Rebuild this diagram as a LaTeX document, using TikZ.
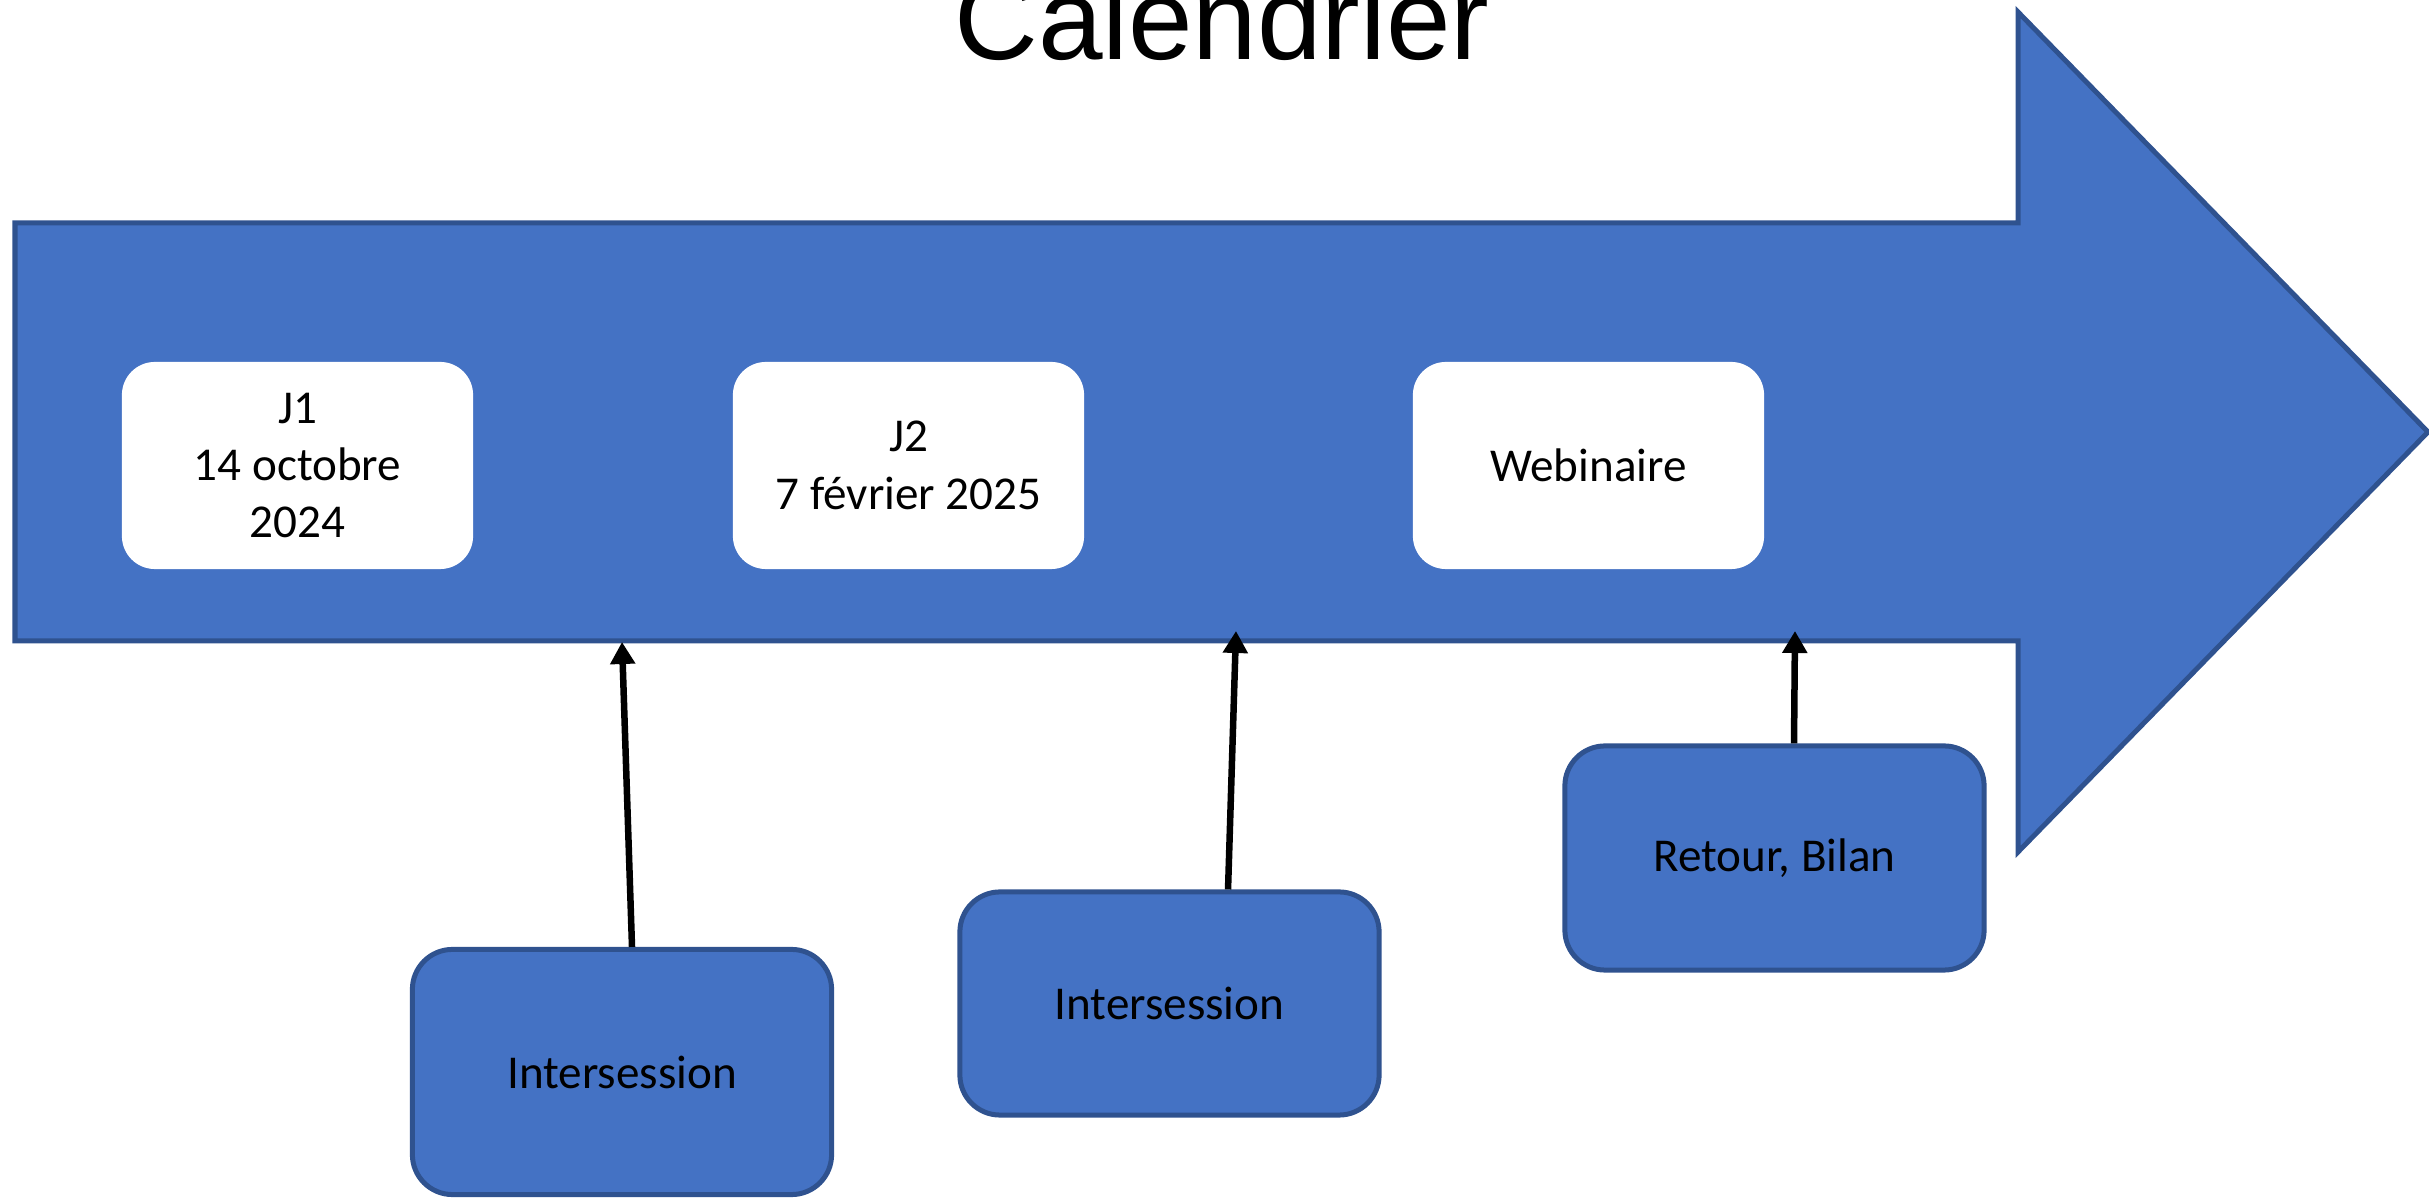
\documentclass[tikz,border=0pt]{standalone}
\usepackage{fontspec}
\setmainfont{Carlito}
\newfontfamily\titlefont{Liberation Sans}
\usetikzlibrary{arrows.meta}
\definecolor{fillblue}{HTML}{4472C4}
\definecolor{edgeblue}{HTML}{2F528F}
\begin{document}
\begin{tikzpicture}[x=0.01cm,y=-0.01cm,
  bigarrow/.style={fill=fillblue, draw=edgeblue, line width=0.05cm, line join=miter},
  datebox/.style={fill=white, rounded corners=0.33cm, minimum width=3.51cm, minimum height=2.07cm,
    inner sep=0pt, align=center, font=\fontsize{13.4}{16.3}\selectfont},
  phasebox/.style={fill=fillblue, draw=edgeblue, line width=0.05cm, rounded corners=0.4cm,
    minimum width=4.19cm, inner sep=0pt, align=center, font=\fontsize{13.4}{16.3}\selectfont},
  conn/.style={line width=0.065cm, -{Triangle[width=0.24cm,length=0.22cm]}}
]
\useasboundingbox (0,0) rectangle (2429,1198);
% title
\node[anchor=base, inner sep=0pt, font=\titlefont\fontsize{33}{40}\selectfont] (title) at (1222,60) {Calendrier};
% big arrow
\draw[bigarrow] (15,223) -- (2018,223) -- (2018,12) -- (2428,432) -- (2018,852) -- (2018,641) -- (15,641) -- cycle;
% date boxes
\node[datebox] (j1) at (297.5,465.5) {J1\\14 octobre\\2024};
\node[datebox] (j2) at (908.5,465.5) {J2\\7 février 2025};
\node[datebox] (web) at (1588.5,465.5) {Webinaire};
% phase boxes
\node[phasebox, minimum height=2.45cm] (inter1) at (622,1072) {Intersession};
\node[phasebox, minimum height=2.23cm] (inter2) at (1169.5,1003.5) {Intersession};
\node[phasebox, minimum height=2.24cm] (bilan) at (1774.5,858) {Retour, Bilan};
% connector ends
\coordinate (t1) at (622,642);
\coordinate (t2) at (1236,631);
\coordinate (t3) at (1795,631);
\draw[conn] ([xshift=0.1cm]inter1.north) -- (t1);
\draw[conn] ([xshift=0.585cm]inter2.north) -- (t2);
\draw[conn] ([xshift=0.195cm]bilan.north) -- (t3);
\end{tikzpicture}
\end{document}
